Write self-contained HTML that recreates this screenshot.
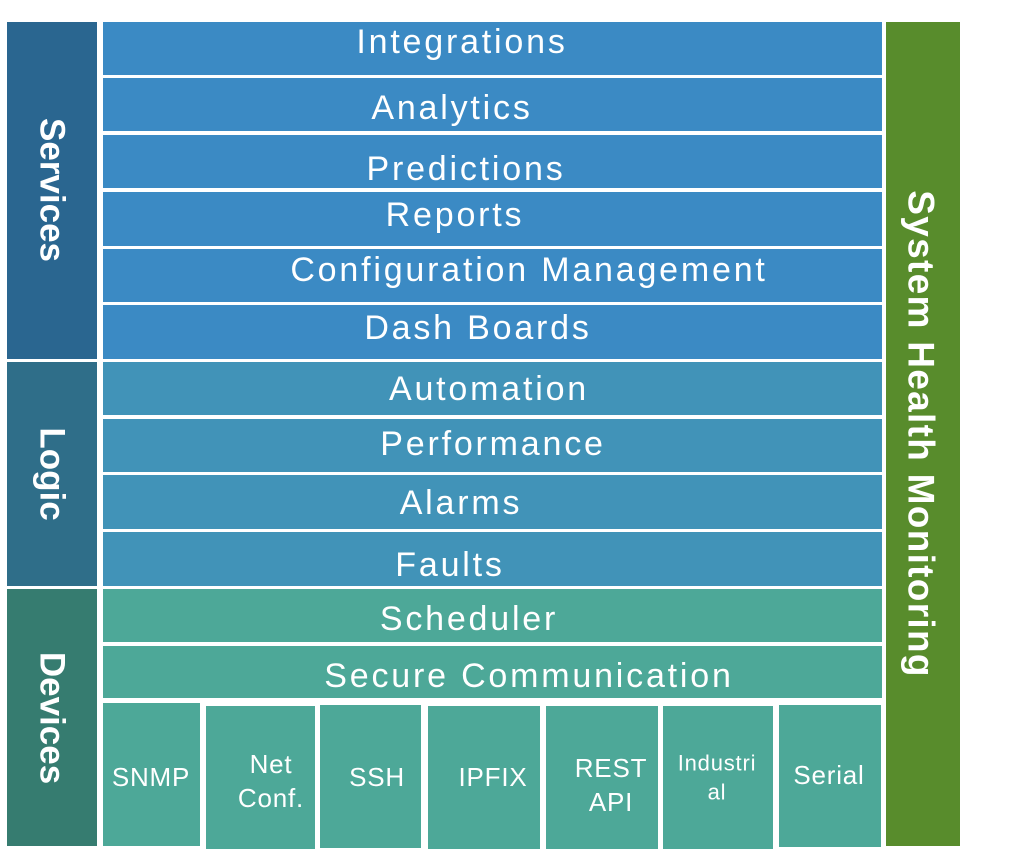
<!DOCTYPE html>
<html><head><meta charset="utf-8"><style>
body{margin:0;width:1024px;height:849px;background:#fff;position:relative;overflow:hidden;font-family:"Liberation Sans",sans-serif;color:#fff}
.b{position:absolute;box-sizing:border-box}
.t{position:absolute;white-space:nowrap;transform:translate(-50%,-50%);font-size:34px;letter-spacing:2.8px;line-height:1}
.s{position:absolute;white-space:nowrap;transform:translate(-50%,-50%);font-size:26px;letter-spacing:0.8px;line-height:1.3;text-align:center}
.v{position:absolute;white-space:nowrap;transform:translate(-50%,-50%) rotate(90deg);font-size:35px;font-weight:bold;line-height:1}
.sv{background:#3b8ac4}.lg{background:#4193b8}.dv{background:#4da898}
</style></head><body>
<div class="b" style="left:7px;top:22px;width:90px;height:337px;background:#2a6690"></div>
<div class="b" style="left:7px;top:362px;width:90px;height:224px;background:#2f6e89"></div>
<div class="b" style="left:7px;top:589px;width:90px;height:257px;background:#367c70"></div>
<div class="b" style="left:886px;top:22px;width:74px;height:824px;background:#588c2c"></div>

<div class="b sv" style="left:103px;top:22px;width:779px;height:53px"></div>
<div class="b sv" style="left:103px;top:78px;width:779px;height:53px"></div>
<div class="b sv" style="left:103px;top:135px;width:779px;height:53px"></div>
<div class="b sv" style="left:103px;top:192px;width:779px;height:54px"></div>
<div class="b sv" style="left:103px;top:249px;width:779px;height:53px"></div>
<div class="b sv" style="left:103px;top:305px;width:779px;height:54px"></div>
<div class="b lg" style="left:103px;top:362px;width:779px;height:53px"></div>
<div class="b lg" style="left:103px;top:419px;width:779px;height:53px"></div>
<div class="b lg" style="left:103px;top:475px;width:779px;height:54px"></div>
<div class="b lg" style="left:103px;top:532px;width:779px;height:54px"></div>
<div class="b dv" style="left:103px;top:589px;width:779px;height:53px"></div>
<div class="b dv" style="left:103px;top:646px;width:779px;height:52px"></div>

<div class="b dv" style="left:103px;top:703px;width:97px;height:143px"></div>
<div class="b dv" style="left:206px;top:706px;width:109px;height:143px"></div>
<div class="b dv" style="left:320px;top:705px;width:101px;height:143px"></div>
<div class="b dv" style="left:428px;top:706px;width:112px;height:143px"></div>
<div class="b dv" style="left:546px;top:706px;width:112px;height:143px"></div>
<div class="b dv" style="left:663px;top:706px;width:110px;height:143px"></div>
<div class="b dv" style="left:779px;top:705px;width:102px;height:142px"></div>

<div class="t" style="left:462px;top:42px">Integrations</div>
<div class="t" style="left:452px;top:108px">Analytics</div>
<div class="t" style="left:466px;top:169px">Predictions</div>
<div class="t" style="left:455px;top:215px">Reports</div>
<div class="t" style="left:529px;top:270px">Configuration Management</div>
<div class="t" style="left:478px;top:328px">Dash Boards</div>
<div class="t" style="left:489px;top:389px">Automation</div>
<div class="t" style="left:493px;top:444px">Performance</div>
<div class="t" style="left:461px;top:503px">Alarms</div>
<div class="t" style="left:450px;top:565px">Faults</div>
<div class="t" style="left:469px;top:619px">Scheduler</div>
<div class="t" style="left:529px;top:676px">Secure Communication</div>

<div class="s" style="left:151px;top:778px">SNMP</div>
<div class="s" style="left:271px;top:782px">Net<br>Conf.</div>
<div class="s" style="left:377px;top:778px">SSH</div>
<div class="s" style="left:493px;top:778px">IPFIX</div>
<div class="s" style="left:611px;top:786px">REST<br>API</div>
<div class="s" style="left:717px;top:778px;font-size:22px">Industri<br>al</div>
<div class="s" style="left:829px;top:776px">Serial</div>

<div class="v" style="left:52px;top:190px">Services</div>
<div class="v" style="left:52px;top:474px">Logic</div>
<div class="v" style="left:52px;top:718px">Devices</div>
<div class="v" style="left:921px;top:434px;font-size:37px;letter-spacing:1.3px">System Health Monitoring</div>
</body></html>
